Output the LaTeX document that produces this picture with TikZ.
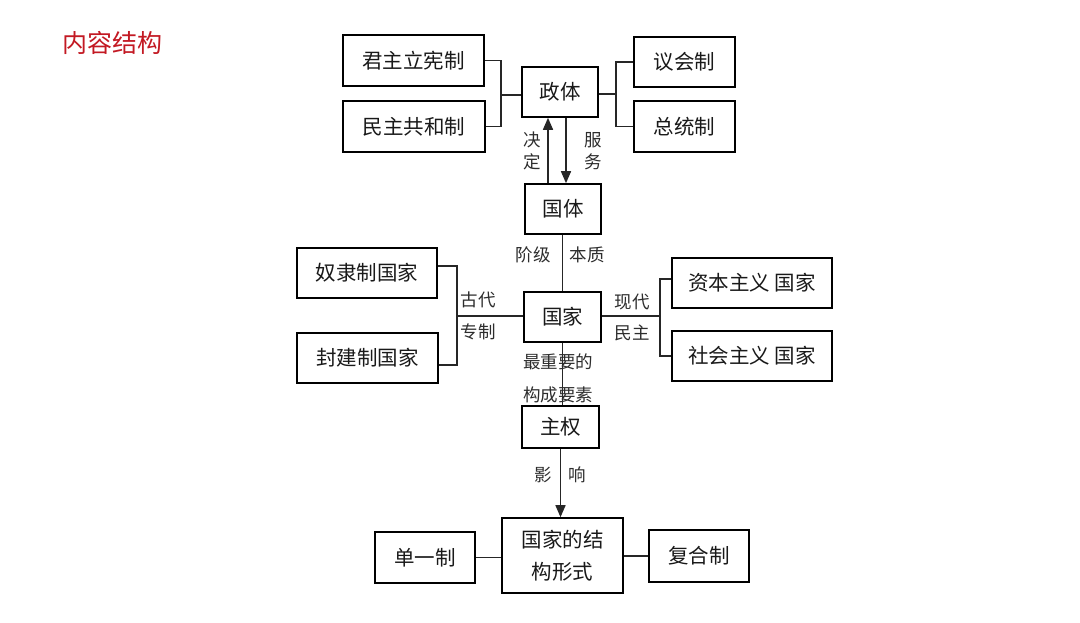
\documentclass[tikz,border=0pt]{standalone}
\usepackage{fontspec}
\newfontfamily\cjk{Noto Sans CJK SC}
\usetikzlibrary{arrows.meta}
\definecolor{titlered}{RGB}{195,25,35}
\definecolor{labelgray}{RGB}{45,45,45}
\tikzset{
  box/.style={draw=black, line width=1.6pt, inner sep=0pt, align=center,
    font=\cjk\fontsize{20.5}{32}\selectfont, text=black!90},
  lbl/.style={inner sep=0pt, align=center, font=\cjk\fontsize{17.5}{22}\selectfont, text=labelgray},
  conn/.style={line width=1.5pt, draw=black!85},
  arr/.style={conn, -{Triangle[length=12pt,width=10pt]}}
}
\begin{document}
\begin{tikzpicture}[x=1pt,y=-1pt]
\useasboundingbox (0,0) rectangle (1080,623);
\fill[white] (0,0) rectangle (1080,623);

\node[font=\cjk\fontsize{25}{28}\selectfont, text=titlered, inner sep=0pt] (title) at (112,43) {内容结构};

% top row
\node[box, minimum width=141, minimum height=51] (jz) at (413.5,60.5) {君主立宪制};
\node[box, minimum width=142, minimum height=51] (mz) at (414,126.5) {民主共和制};
\node[box, minimum width=76, minimum height=50] (zt) at (560,92) {政体};
\node[box, minimum width=101, minimum height=50] (yh) at (684.5,62) {议会制};
\node[box, minimum width=101, minimum height=51] (zz) at (684.5,126.5) {总统制};

% middle
\node[box, minimum width=76, minimum height=50] (gt) at (563,209) {国体};
\node[box, minimum width=77, minimum height=50] (gj) at (562.5,317) {国家};
\node[box, minimum width=140, minimum height=50] (nl) at (367,273) {奴隶制国家};
\node[box, minimum width=141, minimum height=50] (fj) at (367.5,358) {封建制国家};
\node[box, minimum width=160, minimum height=50] (zb) at (752,283) {资本主义\hspace{5pt}国家};
\node[box, minimum width=160, minimum height=50] (sh) at (752,356) {社会主义\hspace{5pt}国家};

% bottom
\node[box, minimum width=77, minimum height=42] (zq) at (560.5,427) {主权};
\node[box, minimum width=121, minimum height=75] (jg) at (562.5,555.5) {国家的结\\构形式};
\node[box, minimum width=100, minimum height=51] (dy) at (425,557.5) {单一制};
\node[box, minimum width=100, minimum height=52] (fh) at (699,556) {复合制};

% brackets around 政体
\coordinate (bl) at (501,95);
\coordinate (br) at (616,94);
\draw[conn] (jz.east) -| (bl) |- (mz.east);
\draw[conn, line width=2pt] (bl) -- (zt.west |- bl);
\draw[conn] (yh.west) -| (br) |- (zz.west);
\draw[conn] (br) -- (zt.east |- br);

% arrows between 政体 and 国体
\draw[arr] ([xshift=-15pt]gt.north) -- ([xshift=-12pt]zt.south);
\draw[arr] ([xshift=6pt]zt.south) -- ([xshift=3pt]gt.north);
\node[lbl] (jd) at (532,151) {决\\定};
\node[lbl] (fw) at (593,151) {服\\务};

% 国体 - 国家
\draw[conn] ([xshift=-0.5pt]gt.south) -- (gj.north);
\node[lbl] (jj) at (533,255) {阶级};
\node[lbl] (bz) at (587,255) {本质};

% brackets around 国家
\coordinate (ll) at (457,316);
\coordinate (rr) at (660,316);
\draw[conn] ([yshift=7pt]nl.east) -| (ll) |- ([yshift=-7pt]fj.east);
\draw[conn] (ll) -- (gj.west |- ll);
\draw[conn] ([yshift=4pt]zb.west) -| (rr) |- (sh.west);
\draw[conn] (rr) -- (gj.east |- rr);
\node[lbl] (gd) at (478,300) {古代};
\node[lbl] (zhz) at (478,332) {专制};
\node[lbl] (xd) at (632,302) {现代};
\node[lbl] (mzh) at (632,333) {民主};

% 国家 - 主权
\draw[conn] (gj.south) -- (gj.south |- zq.north);
\node[lbl] (zzy) at (558,362) {最重要的};
\node[lbl] (gcys) at (558,395) {构成要素};

% 主权 -> 结构形式
\draw[arr] (zq.south) -- (zq.south |- jg.north);
\node[lbl] (yx1) at (543,475) {影};
\node[lbl] (yx2) at (577,475) {响};

\draw[conn] (dy.east) -- (dy.east -| jg.west);
\draw[conn] (fh.west) -- (fh.west -| jg.east);
\end{tikzpicture}
\end{document}
